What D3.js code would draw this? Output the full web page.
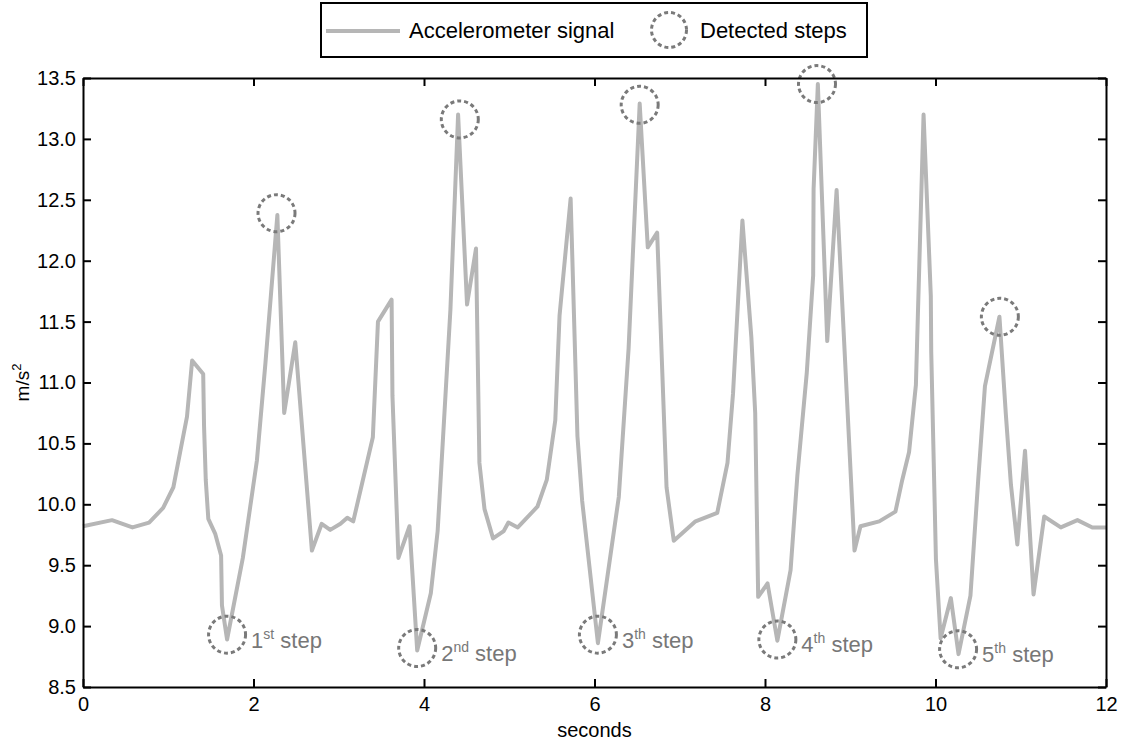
<!DOCTYPE html>
<html>
<head>
<meta charset="utf-8">
<script src="https://cdn.jsdelivr.net/npm/d3@7"></script>
<style>
  body { margin: 0; background: #fff; }
  svg { display: block; font-family: "Liberation Sans", Arial, sans-serif; }
</style>
</head>
<body>
<div id="chart"></div>
<script>
// accelerometer samples (seconds, m/s^2)
var times = [0, 0.34, 0.58, 0.775, 0.94, 1.06, 1.14, 1.22, 1.28, 1.41, 1.42, 1.44, 1.47, 1.55, 1.62, 1.63, 1.69,
  1.875, 2.04, 2.14, 2.28, 2.36, 2.49, 2.685, 2.80, 2.90, 3.02, 3.10, 3.17, 3.40, 3.46, 3.62, 3.63, 3.70, 3.83,
  3.92, 4.08, 4.16, 4.31, 4.40, 4.505, 4.61, 4.65, 4.71, 4.81, 4.935, 4.99, 5.10, 5.33, 5.44, 5.54, 5.59, 5.72,
  5.80, 5.855, 6.04, 6.285, 6.40, 6.53, 6.625, 6.735, 6.845, 6.93, 7.185, 7.44, 7.56, 7.625, 7.735, 7.84, 7.885,
  7.92, 8.03, 8.145, 8.30, 8.38, 8.49, 8.565, 8.57, 8.62, 8.73, 8.84, 9.05, 9.12, 9.34, 9.53, 9.61, 9.69, 9.77,
  9.86, 9.945, 9.95, 10.005, 10.06, 10.18, 10.27, 10.41, 10.50, 10.58, 10.75, 10.825, 10.885, 10.96, 11.05,
  11.15, 11.275, 11.47, 11.665, 11.84, 12.0];
var accel = [9.82, 9.87, 9.81, 9.85, 9.97, 10.14, 10.43, 10.72, 11.18, 11.07, 10.64, 10.20, 9.88, 9.76, 9.58, 9.17, 8.89,
  9.56, 10.36, 11.16, 12.375, 10.75, 11.33, 9.62, 9.84, 9.79, 9.84, 9.89, 9.86, 10.55, 11.50, 11.68, 10.89, 9.56, 9.82,
  8.80, 9.27, 9.78, 11.60, 13.20, 11.64, 12.10, 10.34, 9.96, 9.72, 9.78, 9.85, 9.81, 9.98, 10.20, 10.69, 11.55, 12.51,
  10.56, 10.03, 8.86, 10.06, 11.28, 13.29, 12.11, 12.23, 10.14, 9.70, 9.86, 9.93, 10.34, 10.91, 12.33, 11.37, 10.75,
  9.24, 9.35, 8.88, 9.46, 10.24, 11.08, 11.88, 12.59, 13.45, 11.34, 12.58, 9.62, 9.82, 9.86, 9.94, 10.20, 10.43, 10.98,
  13.20, 11.71, 11.25, 9.55, 8.90, 9.23, 8.77, 9.25, 10.19, 10.97, 11.54, 10.74, 10.16, 9.67, 10.44,
  9.26, 9.90, 9.81, 9.87, 9.81, 9.81];

// detected steps: valley (foot contact) and the peak that follows
var stepNames = ["1", "2", "3", "4", "5"];
var stepSuffix = ["st", "nd", "th", "th", "th"];
var valleyT = [1.69, 3.92, 6.04, 8.145, 10.265];
var valleyV = [8.93, 8.82, 8.93, 8.89, 8.81];
var peakT = [2.27, 4.42, 6.53, 8.61, 10.755];
var peakV = [12.39, 13.16, 13.28, 13.45, 11.54];

var xTicks = [0, 2, 4, 6, 8, 10, 12];
var yTicks = [8.5, 9.0, 9.5, 10.0, 10.5, 11.0, 11.5, 12.0, 12.5, 13.0, 13.5];

var W = 1121, H = 744;
var mLeft = 83, mRight = 1106, mTop = 78, mBottom = 687;

var lineColor = "#b6b6b6";
var circleColor = "#7a7a7a";

var svg = d3.select("#chart").append("svg")
  .attr("width", W)
  .attr("height", H);

var x = d3.scaleLinear().domain([0, 12]).range([mLeft, mRight]);
var y = d3.scaleLinear().domain([8.5, 13.5]).range([mBottom, mTop]);

// signal
var pts = times.map(function(t, i) { return [t, accel[i]]; });
var line = d3.line()
  .x(function(d) { return x(d[0]); })
  .y(function(d) { return y(d[1]); });

svg.append("path")
  .datum(pts)
  .attr("d", line)
  .attr("fill", "none")
  .attr("stroke", lineColor)
  .attr("stroke-width", 4)
  .attr("stroke-linejoin", "round");

// step circles
var circles = [];
valleyT.forEach(function(t, i) {
  circles.push([t, valleyV[i]]);
  circles.push([peakT[i], peakV[i]]);
});
svg.selectAll("circle.step")
  .data(circles)
  .enter()
  .append("circle")
  .attr("class", "step")
  .attr("cx", function(d) { return x(d[0]); })
  .attr("cy", function(d) { return y(d[1]); })
  .attr("r", 18.5)
  .attr("fill", "none")
  .attr("stroke", circleColor)
  .attr("stroke-width", 3)
  .attr("stroke-dasharray", "4,3");

// step labels
var labels = svg.selectAll("text.steplabel")
  .data(stepNames)
  .enter()
  .append("text")
  .attr("class", "steplabel")
  .attr("x", function(d, i) { return x(valleyT[i]) + 24; })
  .attr("y", function(d, i) { return y(valleyV[i]) + 13; })
  .attr("fill", "#777")
  .style("font-size", "22px");
labels.append("tspan").text(function(d) { return d; });
labels.append("tspan")
  .attr("dy", -9)
  .style("font-size", "14px")
  .text(function(d, i) { return stepSuffix[i]; });
labels.append("tspan")
  .attr("dy", 9)
  .text(" step");

// axes (ticks pointing inward on all four sides)
var axB = svg.append("g")
  .attr("transform", "translate(0," + mBottom + ")")
  .call(d3.axisBottom(x).tickValues(xTicks).tickSizeInner(-8).tickSizeOuter(0).tickPadding(10)
    .tickFormat(d3.format("d")));
var axT = svg.append("g")
  .attr("transform", "translate(0," + mTop + ")")
  .call(d3.axisTop(x).tickValues(xTicks).tickSizeInner(-8).tickSizeOuter(0).tickFormat(""));
var axL = svg.append("g")
  .attr("transform", "translate(" + mLeft + ",0)")
  .call(d3.axisLeft(y).tickValues(yTicks).tickSizeInner(-8).tickSizeOuter(0).tickPadding(7)
    .tickFormat(d3.format(".1f")));
var axR = svg.append("g")
  .attr("transform", "translate(" + mRight + ",0)")
  .call(d3.axisRight(y).tickValues(yTicks).tickSizeInner(-8).tickSizeOuter(0).tickFormat(""));

[axB, axT, axL, axR].forEach(function(g) {
  g.selectAll("path").attr("stroke", "#000").attr("stroke-width", 2);
  g.selectAll("line").attr("stroke", "#000").attr("stroke-width", 2);
  g.selectAll("text")
    .attr("fill", "#000")
    .style("font-size", "20px")
    .style("font-family", "'Liberation Sans', Arial, sans-serif");
});

// axis titles
svg.append("text")
  .attr("x", (mLeft + mRight) / 2)
  .attr("y", 737)
  .attr("text-anchor", "middle")
  .style("font-size", "20px")
  .text("seconds");

var yl = svg.append("text")
  .attr("transform", "translate(29," + ((mTop + mBottom) / 2) + ") rotate(-90)")
  .attr("text-anchor", "middle")
  .style("font-size", "19px");
yl.append("tspan").text("m/s");
yl.append("tspan").attr("dy", -8).style("font-size", "13px").text("2");

// legend
var lg = svg.append("g");
lg.append("rect")
  .attr("x", 321).attr("y", 3)
  .attr("width", 546).attr("height", 54)
  .attr("fill", "#fff")
  .attr("stroke", "#000")
  .attr("stroke-width", 2);
lg.append("line")
  .attr("x1", 326).attr("x2", 400)
  .attr("y1", 31).attr("y2", 31)
  .attr("stroke", lineColor)
  .attr("stroke-width", 4);
lg.append("text")
  .attr("x", 409).attr("y", 38)
  .style("font-size", "22px")
  .text("Accelerometer signal");
lg.append("circle")
  .attr("cx", 669).attr("cy", 30).attr("r", 17.5)
  .attr("fill", "none")
  .attr("stroke", circleColor)
  .attr("stroke-width", 3)
  .attr("stroke-dasharray", "4,3");
lg.append("text")
  .attr("x", 700).attr("y", 38)
  .style("font-size", "22px")
  .text("Detected steps");
</script>
</body>
</html>
